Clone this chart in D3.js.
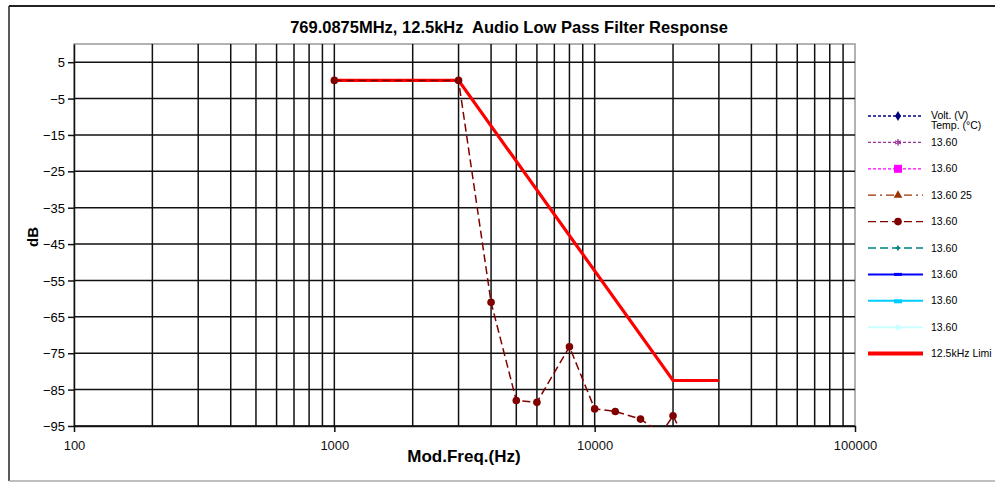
<!DOCTYPE html>
<html>
<head>
<meta charset="utf-8">
<script src="https://cdn.jsdelivr.net/npm/d3@7"></script>
<style>
  body { margin: 0; background: #fff; }
  text { font-family: "Liberation Sans", Arial, sans-serif; }
</style>
</head>
<body>
<script>
const svgWidth = 995;
const svgHeight = 483;

// measured response (dashed dark red series)
const freqs = [1000, 3000, 4000, 5000, 6000, 8000, 10000, 12000, 15000, 18000, 20000, 25000];
const response = [0, 0, -61, -88, -88.5, -73.2, -90.3, -91, -93.1, -97, -92.2, -106];

// 12.5kHz limit mask
const limitFreqs = [1000, 3000, 20000, 30000];
const limitDb = [0, 0, -82.5, -82.5];

const yTicks = [5, -5, -15, -25, -35, -45, -55, -65, -75, -85, -95];
const xTicks = [100, 1000, 10000, 100000];

const legendLabels = ["Volt. (V)", "13.60", "13.60", "13.60 25", "13.60", "13.60", "13.60", "13.60", "13.60", "12.5kHz Limi"];
const legendColors = ["#000080", "#993399", "#ff00ff", "#993300", "#800000", "#008080", "#0000ff", "#00ccff", "#ccffff", "#ff0000"];
const legendDash = ["3,2", "3,2", "3,2", "8,4,2,4", "8,4", "8,4", null, null, null, null];
const legendMarker = ["diamond", "star", "square", "triangle", "circle", "plus", "dash", "dash", "circle", "none"];

var margin = {top: 44, left: 74, right: 140, bottom: 57};
var w = 855 - margin.left;
var h = 426 - margin.top;

var svg = d3.select("body").append("svg")
    .attr("width", svgWidth)
    .attr("height", svgHeight);

// outer chart frame
svg.append("line").attr("x1", 9).attr("x2", 9).attr("y1", 6).attr("y2", 481).attr("stroke", "#222").attr("stroke-width", 1.5);
svg.append("line").attr("x1", 9).attr("x2", 995).attr("y1", 6).attr("y2", 6).attr("stroke", "#222").attr("stroke-width", 2);
svg.append("line").attr("x1", 9).attr("x2", 995).attr("y1", 481).attr("y2", 481).attr("stroke", "#aaa").attr("stroke-width", 1.5);

svg.append("text")
    .text("769.0875MHz, 12.5kHz  Audio Low Pass Filter Response")
    .style("white-space", "pre")
    .attr("x", 509).attr("y", 33)
    .attr("text-anchor", "middle")
    .attr("font-size", 16.5).attr("font-weight", "bold");

var g = svg.append("g")
    .attr("transform", "translate(" + margin.left + "," + margin.top + ")");

const x = d3.scaleLog().domain([100, 100000]).range([0, w]);
const y = d3.scaleLinear().domain([-95, 10]).range([h, 0]);

// plot area border (grey top/right)
g.append("rect").attr("width", w).attr("height", h)
    .attr("fill", "none").attr("stroke", "#999").attr("stroke-width", 1.5);

// vertical grid at every log tick
const minorTicks = [];
for (let d = 100; d < 100000; d *= 10) {
    for (let k = 1; k <= 9; k++) minorTicks.push(d * k);
}
minorTicks.push(100000);

g.selectAll(".vgrid")
    .data(minorTicks.slice(1, -1))
    .enter().append("line")
    .attr("x1", d => x(d)).attr("x2", d => x(d))
    .attr("y1", 0).attr("y2", h)
    .attr("stroke", "#111").attr("stroke-width", 1.5);

g.selectAll(".hgrid")
    .data(yTicks)
    .enter().append("line")
    .attr("x1", 0).attr("x2", w)
    .attr("y1", d => y(d)).attr("y2", d => y(d))
    .attr("stroke", "#111").attr("stroke-width", 1.5);

// axes
const yAxis = d3.axisLeft(y).tickValues(yTicks).tickSize(6).tickSizeOuter(0);
const xAxis = d3.axisBottom(x).tickValues(xTicks).tickFormat(d3.format("d")).tickSize(6).tickSizeOuter(0);

g.append("g").call(yAxis)
    .call(a => a.select(".domain").attr("stroke", "#111").attr("stroke-width", 1.5))
    .call(a => a.selectAll(".tick line").attr("stroke", "#111").attr("stroke-width", 1.5))
    .selectAll("text")
    .attr("font-size", 13).attr("fill", "#000").attr("x", -9).attr("dy", "0.35em");

g.append("g").attr("transform", `translate(0,${h})`).call(xAxis)
    .call(a => a.select(".domain").attr("stroke", "#111").attr("stroke-width", 1.5))
    .call(a => a.selectAll(".tick line").attr("stroke", "#111").attr("stroke-width", 1.5))
    .selectAll("text")
    .attr("font-size", 13).attr("fill", "#111").attr("y", 15);

svg.append("text")
    .text("dB")
    .attr("transform", "translate(38,237) rotate(-90)")
    .attr("text-anchor", "middle")
    .attr("font-size", 15).attr("font-weight", "bold");

svg.append("text")
    .text("Mod.Freq.(Hz)")
    .attr("x", 464).attr("y", 462)
    .attr("text-anchor", "middle")
    .attr("font-size", 17).attr("font-weight", "bold");

// clip data to the plot area
svg.append("defs").append("clipPath").attr("id", "plotclip")
    .append("rect").attr("width", w).attr("height", h + 1);

const plot = g.append("g").attr("clip-path", "url(#plotclip)");

const line = d3.line().x(d => x(d[0])).y(d => y(d[1]));

plot.append("path")
    .datum(limitFreqs.map((f, i) => [f, limitDb[i]]))
    .attr("d", line)
    .attr("fill", "none")
    .attr("stroke", "#ff0000")
    .attr("stroke-width", 3.2);

const respData = freqs.map((f, i) => [f, response[i]]);
plot.append("path")
    .datum(respData)
    .attr("d", line)
    .attr("fill", "none")
    .attr("stroke", "#800000")
    .attr("stroke-width", 1.5)
    .attr("stroke-dasharray", "8,4");

plot.selectAll(".pt")
    .data(respData)
    .enter().append("circle")
    .attr("cx", d => x(d[0])).attr("cy", d => y(d[1]))
    .attr("r", 3.8)
    .attr("fill", "#800000");

// legend
const legend = svg.append("g").attr("transform", "translate(868,116)");
const rowH = 26.4;

legendLabels.forEach((lab, i) => {
    const row = legend.append("g").attr("transform", `translate(0,${i * rowH})`);
    const col = legendColors[i];
    row.append("line")
        .attr("x1", 0).attr("x2", 55).attr("y1", 0).attr("y2", 0)
        .attr("stroke", col)
        .attr("stroke-width", i === 9 ? 4 : (i >= 6 ? 2 : 1.3))
        .attr("stroke-dasharray", legendDash[i]);
    const m = legendMarker[i];
    const cx = 30;
    if (m === "diamond") {
        row.append("path").attr("d", d3.symbol(d3.symbolDiamond, 30)()).attr("transform", `translate(${cx},0)`).attr("fill", col);
    } else if (m === "star") {
        row.append("path").attr("d", d3.symbol(d3.symbolAsterisk, 30)()).attr("transform", `translate(${cx},0)`).attr("stroke", col).attr("stroke-width", 1.3).attr("fill", "none");
    } else if (m === "square") {
        row.append("rect").attr("x", cx - 4).attr("y", -4).attr("width", 8).attr("height", 8).attr("fill", col);
    } else if (m === "triangle") {
        row.append("path").attr("d", d3.symbol(d3.symbolTriangle, 32)()).attr("transform", `translate(${cx},0)`).attr("fill", col);
    } else if (m === "circle") {
        row.append("circle").attr("cx", cx).attr("cy", 0).attr("r", i === 8 ? 2.8 : 3.8).attr("fill", col);
    } else if (m === "plus") {
        row.append("path").attr("d", d3.symbol(d3.symbolCross, 14)()).attr("transform", `translate(${cx},0)`).attr("fill", col);
    } else if (m === "dash") {
        row.append("rect").attr("x", cx - 4).attr("y", -1.5).attr("width", 8).attr("height", i === 7 ? 4 : 3).attr("fill", col);
    }
    row.append("text")
        .text(lab)
        .attr("x", 63).attr("y", i === 0 ? -1 : 0)
        .attr("dy", "0.35em")
        .attr("font-size", 10.5).attr("fill", "#000");
    if (i === 0) {
        row.append("text")
            .text("Temp. (°C)")
            .attr("x", 63).attr("y", 9.5)
            .attr("dy", "0.35em")
            .attr("font-size", 10.5).attr("fill", "#000");
    }
});
</script>
</body>
</html>
